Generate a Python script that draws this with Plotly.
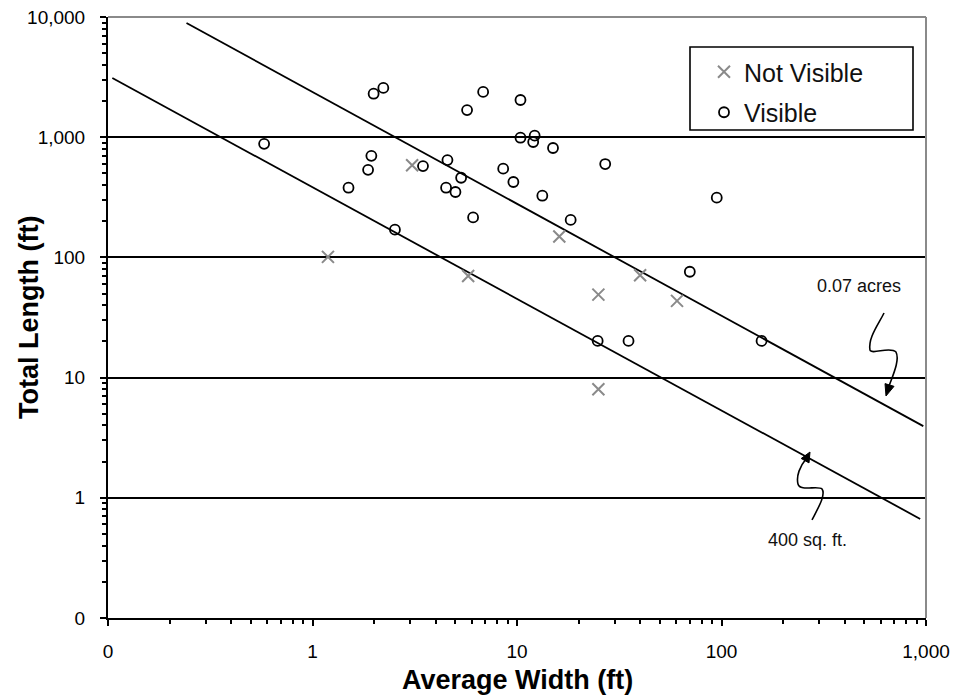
import plotly.graph_objects as go

# Visible stream segments: average width (ft) and total length (ft)
visible_width = [0.58, 1.5, 1.87, 1.94, 1.99, 2.22, 2.53, 3.47, 4.57, 4.5,
                 5.0, 5.33, 5.7, 6.1, 6.83, 8.56, 9.6, 10.4, 10.4, 12.2,
                 12.0, 13.3, 15.0, 18.3, 27.0, 24.8, 35.1, 70.0, 94.8, 157.0]
visible_length = [880, 380, 535, 700, 2300, 2570, 170, 575, 645, 380,
                  350, 460, 1680, 215, 2380, 547, 424, 2040, 990, 1030,
                  912, 326, 813, 205, 598, 20.2, 20.2, 76, 314, 20.2]

# Segments that were not visible
hidden_width = [1.19, 3.07, 5.77, 16.1, 25.0, 25.0, 40.0, 60.6]
hidden_length = [101, 584, 70, 149, 49, 8.0, 71, 43.5]

# Reference area lines (end points in ft)
acres_line_x = [0.242, 970]
acres_line_y = [8913, 3.95]
sqft_line_x = [0.105, 937]
sqft_line_y = [3108, 0.667]

x_tickvals = [0.1, 1, 10, 100, 1000]
x_ticktext = ["0", "1", "10", "100", "1,000"]
y_tickvals = [0.1, 1, 10, 100, 1000, 10000]
y_ticktext = ["0", "1", "10", "100", "1,000", "10,000"]

FONT = "Arial, Liberation Sans, sans-serif"
W, H = 956, 698
M_L, M_R, M_T, M_B = 108, 30, 17, 80
PW, PH = W - M_L - M_R, H - M_T - M_B


def to_paper(px, py):
    """Figure pixel position -> paper coordinates of the plot area."""
    return (px - M_L) / PW, (H - M_B - py) / PH


def path_from(cmds):
    out = []
    for c, pts in cmds:
        coords = " ".join("%.4f,%.4f" % to_paper(*p) for p in pts)
        out.append(c + " " + coords)
    return " ".join(out)


fig = go.Figure()

line_style = dict(color="black", width=1.8)
fig.add_trace(go.Scatter(x=acres_line_x, y=acres_line_y, mode="lines",
                         line=line_style, showlegend=False, hoverinfo="skip"))
fig.add_trace(go.Scatter(x=sqft_line_x, y=sqft_line_y, mode="lines",
                         line=line_style, showlegend=False, hoverinfo="skip"))

fig.add_trace(go.Scatter(
    x=hidden_width, y=hidden_length, mode="markers", name="Not Visible",
    legendgroup="a",
    marker=dict(symbol="x-thin-open", size=12,
                line=dict(color="#8a8a8a", width=2), color="#8a8a8a")))
fig.add_trace(go.Scatter(
    x=visible_width, y=visible_length, mode="markers", name="Visible",
    legendgroup="b",
    marker=dict(symbol="circle-open", size=10, color="black",
                line=dict(color="black", width=1.8))))

minor_vals = [m * 10 ** e for e in range(-1, 4) for m in range(2, 10)]

fig.update_xaxes(
    type="log", range=[-1, 3], tickvals=x_tickvals, ticktext=x_ticktext,
    showgrid=False, zeroline=False, showline=True, linecolor="black",
    linewidth=2, ticks="outside", ticklen=6, tickwidth=1.5, tickcolor="black",
    minor=dict(tickvals=minor_vals, ticks="outside", ticklen=4,
               tickwidth=1.5, tickcolor="black", showgrid=False),
    tickfont=dict(family=FONT, size=19, color="black"),
    ticklabelstandoff=9,
)
fig.update_yaxes(
    type="log", range=[-1, 4], tickvals=y_tickvals, ticktext=y_ticktext,
    showgrid=True, gridcolor="black", gridwidth=1.6, zeroline=False,
    showline=True, linecolor="black", linewidth=2, ticks="outside",
    ticklen=6, tickwidth=1.5, tickcolor="black",
    minor=dict(tickvals=minor_vals, ticks="outside", ticklen=4,
               tickwidth=1.5, tickcolor="black", showgrid=False),
    tickfont=dict(family=FONT, size=19, color="black"),
    ticklabelstandoff=11,
)

shapes = [
    # grey frame on top and right
    dict(type="line", xref="paper", yref="paper", x0=0, x1=1, y0=1, y1=1,
         line=dict(color="#8a8a8a", width=2), layer="above"),
    dict(type="line", xref="paper", yref="paper", x0=1, x1=1, y0=0, y1=1,
         line=dict(color="#8a8a8a", width=2), layer="above"),
]

# legend frame
lx0, ly1 = to_paper(690, 47)
lx1, ly0 = to_paper(913, 130)
shapes.append(dict(type="rect", xref="paper", yref="paper", x0=lx0, x1=lx1,
                   y0=ly0, y1=ly1, fillcolor="white",
                   line=dict(color="black", width=1.6), layer="below"))

# hand-drawn leader squiggles with arrow heads
squiggles = [
    [("M", [(884, 313)]),
     ("C", [(878, 325), (868, 338), (870, 350)]),
     ("C", [(872, 355), (890, 346), (896, 352)]),
     ("C", [(900, 360), (893, 375), (889, 386)])],
    [("M", [(812, 520)]),
     ("C", [(818, 508), (826, 495), (822, 489)]),
     ("C", [(818, 485), (800, 492), (798, 484)]),
     ("C", [(796, 476), (800, 466), (806, 459)])],
]
for sq in squiggles:
    shapes.append(dict(type="path", xref="paper", yref="paper",
                       path=path_from(sq),
                       line=dict(color="black", width=1.6), layer="above"))

heads = [
    [(886, 396), (894, 386.4), (885, 383.6)],
    [(810, 452), (809, 462.9), (801.2, 458.5)],
]
for hd in heads:
    p = path_from([("M", [hd[0]]), ("L", [hd[1]]), ("L", [hd[2]])]) + " Z"
    shapes.append(dict(type="path", xref="paper", yref="paper", path=p,
                       fillcolor="black", line=dict(color="black", width=1),
                       layer="above"))

annotations = []
for txt, (px, py) in [("0.07 acres", (859, 286)), ("400 sq. ft.", (807, 540))]:
    ax_, ay_ = to_paper(px, py)
    annotations.append(dict(text=txt, x=ax_, y=ay_, xref="paper", yref="paper",
                            showarrow=False, xanchor="center", yanchor="middle",
                            font=dict(family=FONT, size=18, color="#111111")))

# axis titles
tx, ty = to_paper(517, 680)
annotations.append(dict(text="<b>Average Width (ft)</b>", x=tx, y=ty,
                        xref="paper", yref="paper", showarrow=False,
                        xanchor="center", yanchor="middle",
                        font=dict(family=FONT, size=27, color="black")))
tx, ty = to_paper(29, 318)
annotations.append(dict(text="<b>Total Length (ft)</b>", x=tx, y=ty,
                        xref="paper", yref="paper", showarrow=False,
                        textangle=-90, xanchor="center", yanchor="middle",
                        font=dict(family=FONT, size=27, color="black")))

legx, legy = to_paper(704, 49)

fig.update_layout(
    width=W, height=H,
    margin=dict(l=M_L, r=M_R, t=M_T, b=M_B, autoexpand=False),
    paper_bgcolor="white", plot_bgcolor="white",
    font=dict(family=FONT, color="black"),
    showlegend=True,
    legend=dict(x=legx, y=legy, xanchor="left", yanchor="top",
                bgcolor="rgba(0,0,0,0)", borderwidth=0,
                font=dict(family=FONT, size=25, color="#111111"),
                tracegroupgap=5),
    shapes=shapes,
    annotations=annotations,
)

fig.write_html("out.html")
